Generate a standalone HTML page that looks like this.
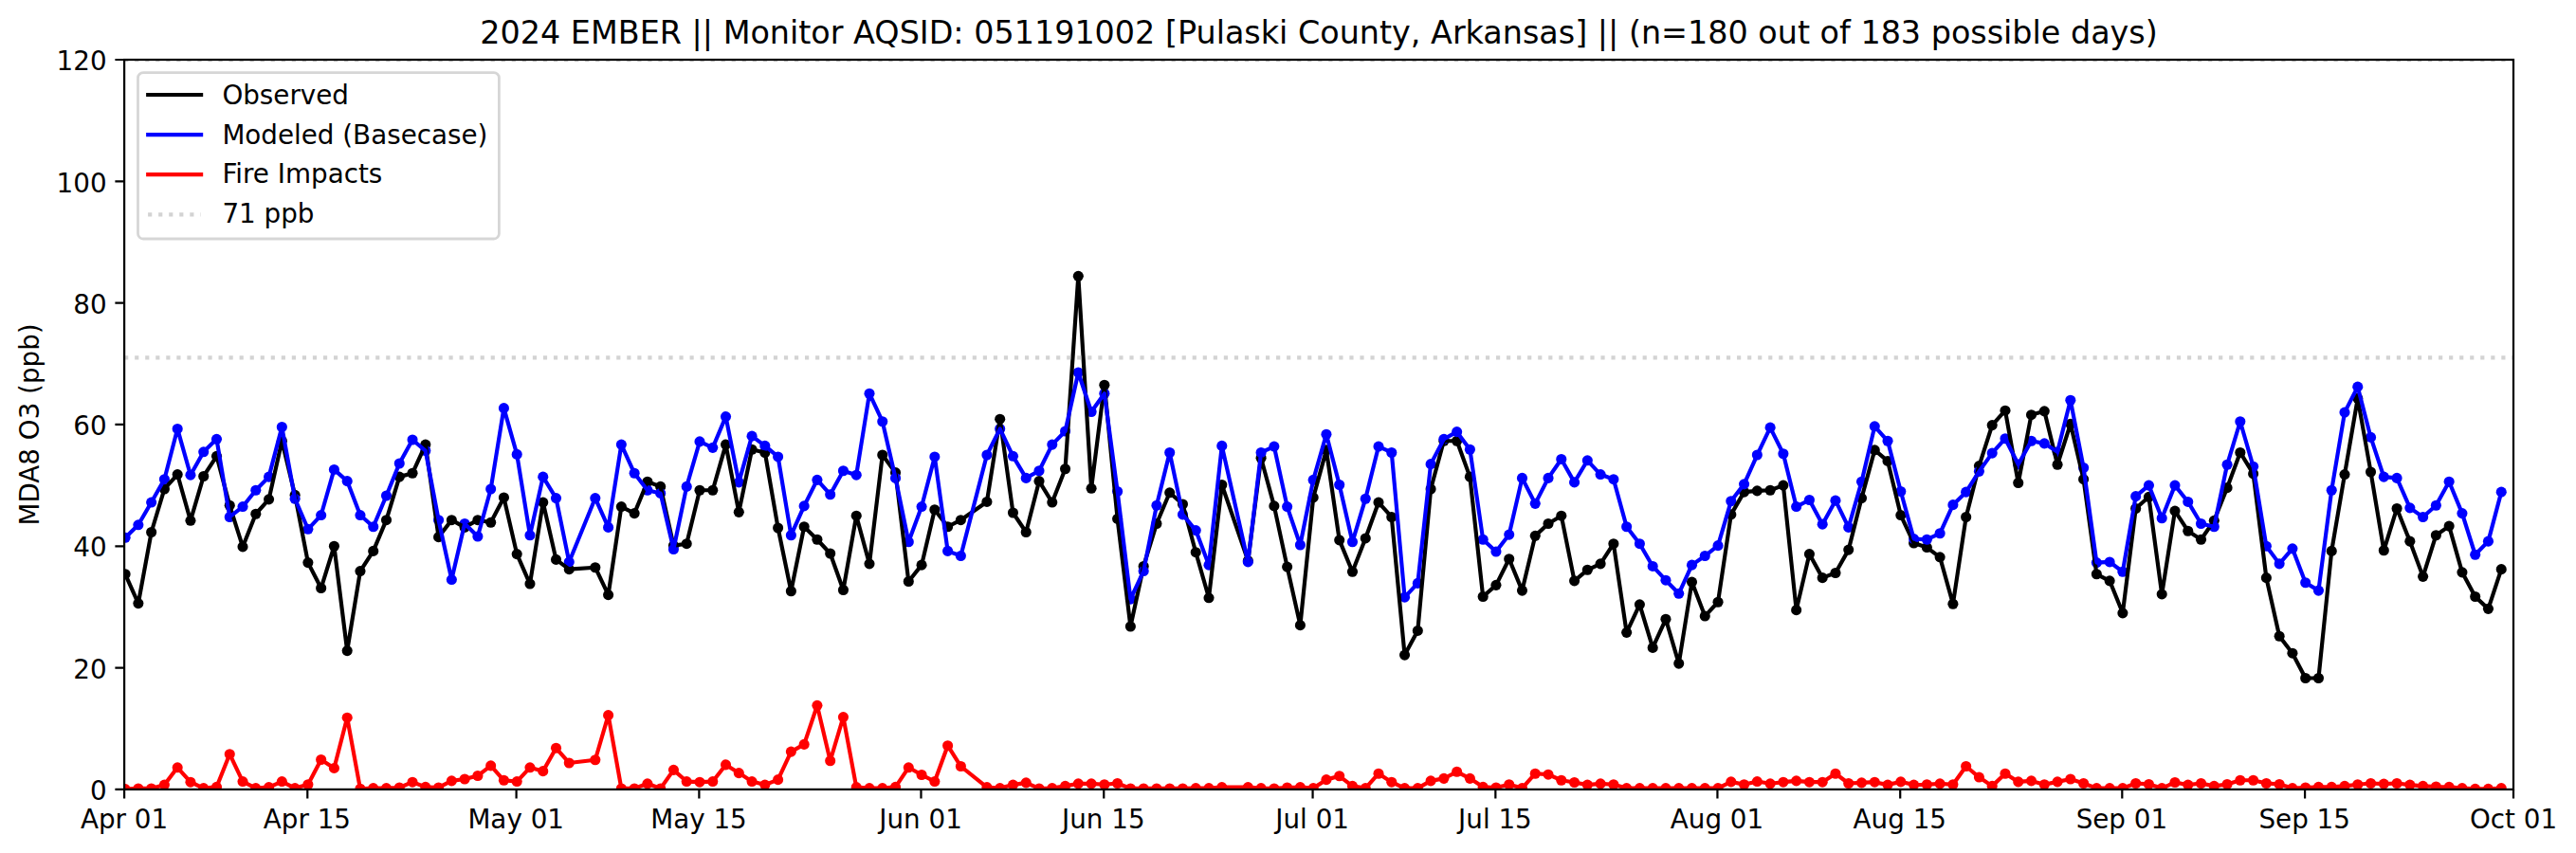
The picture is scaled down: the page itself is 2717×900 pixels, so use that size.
<!DOCTYPE html>
<html lang="en"><head><meta charset="utf-8"><title>2024 EMBER MDA8 O3 time series</title>
<style>html,body{margin:0;padding:0;background:#fff}svg{display:block}text{font-family:"DejaVu Sans", "Liberation Sans", sans-serif;fill:#000}</style></head><body>
<svg width="2717" height="900" viewBox="0 0 2717 900">
<rect x="0" y="0" width="2717" height="900" fill="#ffffff"/>
<defs><clipPath id="ax"><rect x="131.10" y="63.00" width="2519.90" height="769.90"/></clipPath></defs>
<g clip-path="url(#ax)">
<g fill="#000000">
<circle cx="132.10" cy="605.78" r="5.55"/><circle cx="145.87" cy="636.58" r="5.55"/><circle cx="159.64" cy="561.51" r="5.55"/><circle cx="173.41" cy="515.96" r="5.55"/><circle cx="187.18" cy="500.56" r="5.55"/><circle cx="200.95" cy="549.32" r="5.55"/><circle cx="214.72" cy="502.48" r="5.55"/><circle cx="228.49" cy="481.31" r="5.55"/><circle cx="242.26" cy="533.28" r="5.55"/><circle cx="256.03" cy="576.91" r="5.55"/><circle cx="269.80" cy="542.26" r="5.55"/><circle cx="283.57" cy="526.86" r="5.55"/><circle cx="297.34" cy="465.27" r="5.55"/><circle cx="311.11" cy="522.37" r="5.55"/><circle cx="324.88" cy="593.59" r="5.55"/><circle cx="338.65" cy="620.54" r="5.55"/><circle cx="352.42" cy="576.27" r="5.55"/><circle cx="366.19" cy="686.62" r="5.55"/><circle cx="379.96" cy="602.57" r="5.55"/><circle cx="393.73" cy="581.40" r="5.55"/><circle cx="407.50" cy="548.68" r="5.55"/><circle cx="421.27" cy="503.13" r="5.55"/><circle cx="435.04" cy="499.28" r="5.55"/><circle cx="448.81" cy="469.12" r="5.55"/><circle cx="462.58" cy="566.64" r="5.55"/><circle cx="476.35" cy="548.68" r="5.55"/><circle cx="490.12" cy="556.38" r="5.55"/><circle cx="503.89" cy="548.68" r="5.55"/><circle cx="517.66" cy="551.24" r="5.55"/><circle cx="531.43" cy="524.94" r="5.55"/><circle cx="545.20" cy="584.61" r="5.55"/><circle cx="558.97" cy="616.04" r="5.55"/><circle cx="572.74" cy="530.07" r="5.55"/><circle cx="586.51" cy="590.38" r="5.55"/><circle cx="600.28" cy="600.65" r="5.55"/><circle cx="627.82" cy="598.72" r="5.55"/><circle cx="641.59" cy="627.59" r="5.55"/><circle cx="655.36" cy="534.56" r="5.55"/><circle cx="669.13" cy="541.62" r="5.55"/><circle cx="682.90" cy="508.26" r="5.55"/><circle cx="696.67" cy="513.39" r="5.55"/><circle cx="710.44" cy="575.63" r="5.55"/><circle cx="724.21" cy="573.70" r="5.55"/><circle cx="737.98" cy="517.24" r="5.55"/><circle cx="751.75" cy="517.24" r="5.55"/><circle cx="765.52" cy="469.12" r="5.55"/><circle cx="779.29" cy="540.34" r="5.55"/><circle cx="793.06" cy="474.25" r="5.55"/><circle cx="806.83" cy="477.46" r="5.55"/><circle cx="820.60" cy="557.02" r="5.55"/><circle cx="834.37" cy="623.74" r="5.55"/><circle cx="848.14" cy="555.74" r="5.55"/><circle cx="861.91" cy="569.21" r="5.55"/><circle cx="875.68" cy="583.97" r="5.55"/><circle cx="889.45" cy="622.46" r="5.55"/><circle cx="903.22" cy="544.19" r="5.55"/><circle cx="916.99" cy="594.87" r="5.55"/><circle cx="930.76" cy="480.03" r="5.55"/><circle cx="944.53" cy="498.64" r="5.55"/><circle cx="958.30" cy="613.48" r="5.55"/><circle cx="972.07" cy="596.16" r="5.55"/><circle cx="985.84" cy="537.77" r="5.55"/><circle cx="999.61" cy="555.74" r="5.55"/><circle cx="1013.38" cy="548.68" r="5.55"/><circle cx="1040.92" cy="529.43" r="5.55"/><circle cx="1054.69" cy="442.18" r="5.55"/><circle cx="1068.46" cy="540.98" r="5.55"/><circle cx="1082.23" cy="561.51" r="5.55"/><circle cx="1096.00" cy="507.62" r="5.55"/><circle cx="1109.77" cy="530.07" r="5.55"/><circle cx="1123.54" cy="494.79" r="5.55"/><circle cx="1137.31" cy="291.34" r="5.55"/><circle cx="1151.08" cy="515.32" r="5.55"/><circle cx="1164.85" cy="406.25" r="5.55"/><circle cx="1178.62" cy="547.40" r="5.55"/><circle cx="1192.39" cy="660.96" r="5.55"/><circle cx="1206.16" cy="597.44" r="5.55"/><circle cx="1219.93" cy="552.53" r="5.55"/><circle cx="1233.70" cy="519.81" r="5.55"/><circle cx="1247.47" cy="532.00" r="5.55"/><circle cx="1261.24" cy="582.68" r="5.55"/><circle cx="1275.01" cy="630.80" r="5.55"/><circle cx="1288.78" cy="511.47" r="5.55"/><circle cx="1316.32" cy="591.66" r="5.55"/><circle cx="1330.09" cy="483.24" r="5.55"/><circle cx="1343.86" cy="533.92" r="5.55"/><circle cx="1357.63" cy="598.08" r="5.55"/><circle cx="1371.40" cy="659.67" r="5.55"/><circle cx="1385.17" cy="524.94" r="5.55"/><circle cx="1398.93" cy="474.90" r="5.55"/><circle cx="1412.70" cy="569.85" r="5.55"/><circle cx="1426.47" cy="603.21" r="5.55"/><circle cx="1440.24" cy="567.93" r="5.55"/><circle cx="1454.01" cy="530.07" r="5.55"/><circle cx="1467.78" cy="545.47" r="5.55"/><circle cx="1481.55" cy="691.11" r="5.55"/><circle cx="1495.32" cy="665.45" r="5.55"/><circle cx="1509.09" cy="515.96" r="5.55"/><circle cx="1522.86" cy="465.27" r="5.55"/><circle cx="1536.63" cy="465.27" r="5.55"/><circle cx="1550.40" cy="503.13" r="5.55"/><circle cx="1564.17" cy="629.52" r="5.55"/><circle cx="1577.94" cy="617.33" r="5.55"/><circle cx="1591.71" cy="589.74" r="5.55"/><circle cx="1605.48" cy="623.10" r="5.55"/><circle cx="1619.25" cy="565.36" r="5.55"/><circle cx="1633.02" cy="552.53" r="5.55"/><circle cx="1646.79" cy="544.19" r="5.55"/><circle cx="1660.56" cy="612.84" r="5.55"/><circle cx="1674.33" cy="601.29" r="5.55"/><circle cx="1688.10" cy="594.87" r="5.55"/><circle cx="1701.87" cy="573.70" r="5.55"/><circle cx="1715.64" cy="667.37" r="5.55"/><circle cx="1729.41" cy="637.86" r="5.55"/><circle cx="1743.18" cy="683.41" r="5.55"/><circle cx="1756.95" cy="653.26" r="5.55"/><circle cx="1770.72" cy="700.09" r="5.55"/><circle cx="1784.49" cy="614.12" r="5.55"/><circle cx="1798.26" cy="650.05" r="5.55"/><circle cx="1812.03" cy="635.29" r="5.55"/><circle cx="1825.80" cy="542.90" r="5.55"/><circle cx="1839.57" cy="519.17" r="5.55"/><circle cx="1853.34" cy="517.88" r="5.55"/><circle cx="1867.11" cy="517.24" r="5.55"/><circle cx="1880.88" cy="512.11" r="5.55"/><circle cx="1894.65" cy="643.63" r="5.55"/><circle cx="1908.42" cy="584.61" r="5.55"/><circle cx="1922.19" cy="609.63" r="5.55"/><circle cx="1935.96" cy="604.50" r="5.55"/><circle cx="1949.73" cy="580.12" r="5.55"/><circle cx="1963.50" cy="525.58" r="5.55"/><circle cx="1977.27" cy="474.90" r="5.55"/><circle cx="1991.04" cy="486.44" r="5.55"/><circle cx="2004.81" cy="543.55" r="5.55"/><circle cx="2018.58" cy="573.06" r="5.55"/><circle cx="2032.35" cy="577.55" r="5.55"/><circle cx="2046.12" cy="587.82" r="5.55"/><circle cx="2059.89" cy="637.22" r="5.55"/><circle cx="2073.66" cy="545.47" r="5.55"/><circle cx="2087.43" cy="491.58" r="5.55"/><circle cx="2101.20" cy="448.59" r="5.55"/><circle cx="2114.97" cy="433.19" r="5.55"/><circle cx="2128.74" cy="509.54" r="5.55"/><circle cx="2142.51" cy="437.68" r="5.55"/><circle cx="2156.28" cy="433.84" r="5.55"/><circle cx="2170.05" cy="490.29" r="5.55"/><circle cx="2183.82" cy="447.31" r="5.55"/><circle cx="2197.59" cy="505.69" r="5.55"/><circle cx="2211.36" cy="605.78" r="5.55"/><circle cx="2225.13" cy="612.84" r="5.55"/><circle cx="2238.90" cy="646.84" r="5.55"/><circle cx="2252.67" cy="536.49" r="5.55"/><circle cx="2266.44" cy="524.30" r="5.55"/><circle cx="2280.21" cy="626.95" r="5.55"/><circle cx="2293.98" cy="539.05" r="5.55"/><circle cx="2307.75" cy="560.23" r="5.55"/><circle cx="2321.52" cy="569.21" r="5.55"/><circle cx="2335.29" cy="549.32" r="5.55"/><circle cx="2349.06" cy="514.67" r="5.55"/><circle cx="2362.83" cy="477.46" r="5.55"/><circle cx="2376.60" cy="499.92" r="5.55"/><circle cx="2390.37" cy="609.63" r="5.55"/><circle cx="2404.14" cy="671.22" r="5.55"/><circle cx="2417.91" cy="689.19" r="5.55"/><circle cx="2431.68" cy="715.49" r="5.55"/><circle cx="2445.45" cy="715.49" r="5.55"/><circle cx="2459.22" cy="581.40" r="5.55"/><circle cx="2472.99" cy="500.56" r="5.55"/><circle cx="2486.76" cy="420.36" r="5.55"/><circle cx="2500.53" cy="497.99" r="5.55"/><circle cx="2514.30" cy="580.76" r="5.55"/><circle cx="2528.07" cy="536.49" r="5.55"/><circle cx="2541.84" cy="571.13" r="5.55"/><circle cx="2555.61" cy="608.35" r="5.55"/><circle cx="2569.38" cy="564.72" r="5.55"/><circle cx="2583.15" cy="555.09" r="5.55"/><circle cx="2596.92" cy="603.85" r="5.55"/><circle cx="2610.69" cy="629.52" r="5.55"/><circle cx="2624.46" cy="642.35" r="5.55"/><circle cx="2638.23" cy="600.65" r="5.55"/>
</g>
<g fill="#0000ff">
<circle cx="132.10" cy="567.28" r="5.55"/><circle cx="145.87" cy="553.81" r="5.55"/><circle cx="159.64" cy="530.07" r="5.55"/><circle cx="173.41" cy="505.69" r="5.55"/><circle cx="187.18" cy="452.44" r="5.55"/><circle cx="200.95" cy="501.20" r="5.55"/><circle cx="214.72" cy="476.82" r="5.55"/><circle cx="228.49" cy="463.35" r="5.55"/><circle cx="242.26" cy="545.47" r="5.55"/><circle cx="256.03" cy="534.56" r="5.55"/><circle cx="269.80" cy="517.24" r="5.55"/><circle cx="283.57" cy="503.13" r="5.55"/><circle cx="297.34" cy="450.52" r="5.55"/><circle cx="311.11" cy="526.22" r="5.55"/><circle cx="324.88" cy="558.30" r="5.55"/><circle cx="338.65" cy="543.55" r="5.55"/><circle cx="352.42" cy="495.43" r="5.55"/><circle cx="366.19" cy="507.62" r="5.55"/><circle cx="379.96" cy="543.55" r="5.55"/><circle cx="393.73" cy="555.74" r="5.55"/><circle cx="407.50" cy="523.02" r="5.55"/><circle cx="421.27" cy="489.01" r="5.55"/><circle cx="435.04" cy="463.99" r="5.55"/><circle cx="448.81" cy="475.54" r="5.55"/><circle cx="462.58" cy="548.68" r="5.55"/><circle cx="476.35" cy="611.55" r="5.55"/><circle cx="490.12" cy="552.53" r="5.55"/><circle cx="503.89" cy="566.00" r="5.55"/><circle cx="517.66" cy="515.96" r="5.55"/><circle cx="531.43" cy="430.63" r="5.55"/><circle cx="545.20" cy="479.39" r="5.55"/><circle cx="558.97" cy="564.72" r="5.55"/><circle cx="572.74" cy="503.13" r="5.55"/><circle cx="586.51" cy="525.58" r="5.55"/><circle cx="600.28" cy="592.95" r="5.55"/><circle cx="627.82" cy="525.58" r="5.55"/><circle cx="641.59" cy="556.38" r="5.55"/><circle cx="655.36" cy="469.12" r="5.55"/><circle cx="669.13" cy="499.28" r="5.55"/><circle cx="682.90" cy="517.24" r="5.55"/><circle cx="696.67" cy="520.45" r="5.55"/><circle cx="710.44" cy="579.47" r="5.55"/><circle cx="724.21" cy="513.39" r="5.55"/><circle cx="737.98" cy="465.91" r="5.55"/><circle cx="751.75" cy="472.33" r="5.55"/><circle cx="765.52" cy="439.61" r="5.55"/><circle cx="779.29" cy="508.90" r="5.55"/><circle cx="793.06" cy="460.14" r="5.55"/><circle cx="806.83" cy="470.41" r="5.55"/><circle cx="820.60" cy="481.95" r="5.55"/><circle cx="834.37" cy="564.72" r="5.55"/><circle cx="848.14" cy="533.92" r="5.55"/><circle cx="861.91" cy="506.33" r="5.55"/><circle cx="875.68" cy="521.73" r="5.55"/><circle cx="889.45" cy="496.71" r="5.55"/><circle cx="903.22" cy="501.20" r="5.55"/><circle cx="916.99" cy="415.23" r="5.55"/><circle cx="930.76" cy="444.74" r="5.55"/><circle cx="944.53" cy="504.41" r="5.55"/><circle cx="958.30" cy="571.78" r="5.55"/><circle cx="972.07" cy="534.56" r="5.55"/><circle cx="985.84" cy="481.95" r="5.55"/><circle cx="999.61" cy="581.40" r="5.55"/><circle cx="1013.38" cy="586.53" r="5.55"/><circle cx="1040.92" cy="480.03" r="5.55"/><circle cx="1054.69" cy="452.44" r="5.55"/><circle cx="1068.46" cy="481.31" r="5.55"/><circle cx="1082.23" cy="504.41" r="5.55"/><circle cx="1096.00" cy="496.71" r="5.55"/><circle cx="1109.77" cy="469.12" r="5.55"/><circle cx="1123.54" cy="455.01" r="5.55"/><circle cx="1137.31" cy="393.03" r="5.55"/><circle cx="1151.08" cy="434.48" r="5.55"/><circle cx="1164.85" cy="415.23" r="5.55"/><circle cx="1178.62" cy="518.52" r="5.55"/><circle cx="1192.39" cy="632.08" r="5.55"/><circle cx="1206.16" cy="602.57" r="5.55"/><circle cx="1219.93" cy="533.28" r="5.55"/><circle cx="1233.70" cy="477.46" r="5.55"/><circle cx="1247.47" cy="542.90" r="5.55"/><circle cx="1261.24" cy="559.59" r="5.55"/><circle cx="1275.01" cy="596.16" r="5.55"/><circle cx="1288.78" cy="470.41" r="5.55"/><circle cx="1316.32" cy="592.95" r="5.55"/><circle cx="1330.09" cy="477.46" r="5.55"/><circle cx="1343.86" cy="471.05" r="5.55"/><circle cx="1357.63" cy="534.56" r="5.55"/><circle cx="1371.40" cy="574.98" r="5.55"/><circle cx="1385.17" cy="506.33" r="5.55"/><circle cx="1398.93" cy="458.22" r="5.55"/><circle cx="1412.70" cy="511.47" r="5.55"/><circle cx="1426.47" cy="571.78" r="5.55"/><circle cx="1440.24" cy="526.22" r="5.55"/><circle cx="1454.01" cy="471.05" r="5.55"/><circle cx="1467.78" cy="477.46" r="5.55"/><circle cx="1481.55" cy="630.16" r="5.55"/><circle cx="1495.32" cy="615.40" r="5.55"/><circle cx="1509.09" cy="489.65" r="5.55"/><circle cx="1522.86" cy="463.35" r="5.55"/><circle cx="1536.63" cy="455.65" r="5.55"/><circle cx="1550.40" cy="474.25" r="5.55"/><circle cx="1564.17" cy="569.21" r="5.55"/><circle cx="1577.94" cy="582.04" r="5.55"/><circle cx="1591.71" cy="564.08" r="5.55"/><circle cx="1605.48" cy="504.41" r="5.55"/><circle cx="1619.25" cy="531.36" r="5.55"/><circle cx="1633.02" cy="504.41" r="5.55"/><circle cx="1646.79" cy="484.52" r="5.55"/><circle cx="1660.56" cy="508.90" r="5.55"/><circle cx="1674.33" cy="485.80" r="5.55"/><circle cx="1688.10" cy="500.56" r="5.55"/><circle cx="1701.87" cy="505.69" r="5.55"/><circle cx="1715.64" cy="555.74" r="5.55"/><circle cx="1729.41" cy="573.70" r="5.55"/><circle cx="1743.18" cy="597.44" r="5.55"/><circle cx="1756.95" cy="612.20" r="5.55"/><circle cx="1770.72" cy="626.31" r="5.55"/><circle cx="1784.49" cy="596.16" r="5.55"/><circle cx="1798.26" cy="586.53" r="5.55"/><circle cx="1812.03" cy="575.63" r="5.55"/><circle cx="1825.80" cy="528.79" r="5.55"/><circle cx="1839.57" cy="510.83" r="5.55"/><circle cx="1853.34" cy="480.03" r="5.55"/><circle cx="1867.11" cy="451.16" r="5.55"/><circle cx="1880.88" cy="478.75" r="5.55"/><circle cx="1894.65" cy="534.56" r="5.55"/><circle cx="1908.42" cy="527.51" r="5.55"/><circle cx="1922.19" cy="553.17" r="5.55"/><circle cx="1935.96" cy="528.15" r="5.55"/><circle cx="1949.73" cy="556.38" r="5.55"/><circle cx="1963.50" cy="508.26" r="5.55"/><circle cx="1977.27" cy="449.87" r="5.55"/><circle cx="1991.04" cy="465.27" r="5.55"/><circle cx="2004.81" cy="518.52" r="5.55"/><circle cx="2018.58" cy="568.57" r="5.55"/><circle cx="2032.35" cy="569.21" r="5.55"/><circle cx="2046.12" cy="562.79" r="5.55"/><circle cx="2059.89" cy="532.64" r="5.55"/><circle cx="2073.66" cy="519.17" r="5.55"/><circle cx="2087.43" cy="497.35" r="5.55"/><circle cx="2101.20" cy="478.10" r="5.55"/><circle cx="2114.97" cy="462.71" r="5.55"/><circle cx="2128.74" cy="489.97" r="5.55"/><circle cx="2142.51" cy="465.27" r="5.55"/><circle cx="2156.28" cy="467.84" r="5.55"/><circle cx="2170.05" cy="476.82" r="5.55"/><circle cx="2183.82" cy="422.29" r="5.55"/><circle cx="2197.59" cy="493.50" r="5.55"/><circle cx="2211.36" cy="593.59" r="5.55"/><circle cx="2225.13" cy="592.95" r="5.55"/><circle cx="2238.90" cy="603.21" r="5.55"/><circle cx="2252.67" cy="523.66" r="5.55"/><circle cx="2266.44" cy="512.11" r="5.55"/><circle cx="2280.21" cy="546.75" r="5.55"/><circle cx="2293.98" cy="512.11" r="5.55"/><circle cx="2307.75" cy="529.43" r="5.55"/><circle cx="2321.52" cy="552.53" r="5.55"/><circle cx="2335.29" cy="555.74" r="5.55"/><circle cx="2349.06" cy="490.29" r="5.55"/><circle cx="2362.83" cy="444.74" r="5.55"/><circle cx="2376.60" cy="492.22" r="5.55"/><circle cx="2390.37" cy="576.27" r="5.55"/><circle cx="2404.14" cy="594.87" r="5.55"/><circle cx="2417.91" cy="578.83" r="5.55"/><circle cx="2431.68" cy="614.76" r="5.55"/><circle cx="2445.45" cy="623.10" r="5.55"/><circle cx="2459.22" cy="517.24" r="5.55"/><circle cx="2472.99" cy="435.12" r="5.55"/><circle cx="2486.76" cy="408.17" r="5.55"/><circle cx="2500.53" cy="461.42" r="5.55"/><circle cx="2514.30" cy="503.13" r="5.55"/><circle cx="2528.07" cy="504.41" r="5.55"/><circle cx="2541.84" cy="535.85" r="5.55"/><circle cx="2555.61" cy="545.47" r="5.55"/><circle cx="2569.38" cy="533.28" r="5.55"/><circle cx="2583.15" cy="508.26" r="5.55"/><circle cx="2596.92" cy="541.62" r="5.55"/><circle cx="2610.69" cy="585.25" r="5.55"/><circle cx="2624.46" cy="571.13" r="5.55"/><circle cx="2638.23" cy="519.17" r="5.55"/>
</g>
<g fill="#ff0000">
<circle cx="132.10" cy="832.58" r="5.55"/><circle cx="145.87" cy="831.94" r="5.55"/><circle cx="159.64" cy="831.94" r="5.55"/><circle cx="173.41" cy="828.09" r="5.55"/><circle cx="187.18" cy="809.80" r="5.55"/><circle cx="200.95" cy="825.20" r="5.55"/><circle cx="214.72" cy="831.62" r="5.55"/><circle cx="228.49" cy="830.33" r="5.55"/><circle cx="242.26" cy="795.69" r="5.55"/><circle cx="256.03" cy="824.56" r="5.55"/><circle cx="269.80" cy="831.62" r="5.55"/><circle cx="283.57" cy="830.65" r="5.55"/><circle cx="297.34" cy="824.56" r="5.55"/><circle cx="311.11" cy="831.62" r="5.55"/><circle cx="324.88" cy="827.77" r="5.55"/><circle cx="338.65" cy="801.46" r="5.55"/><circle cx="352.42" cy="810.44" r="5.55"/><circle cx="366.19" cy="757.19" r="5.55"/><circle cx="379.96" cy="832.26" r="5.55"/><circle cx="393.73" cy="831.62" r="5.55"/><circle cx="407.50" cy="831.62" r="5.55"/><circle cx="421.27" cy="830.98" r="5.55"/><circle cx="435.04" cy="825.20" r="5.55"/><circle cx="448.81" cy="830.33" r="5.55"/><circle cx="462.58" cy="830.98" r="5.55"/><circle cx="476.35" cy="823.92" r="5.55"/><circle cx="490.12" cy="821.99" r="5.55"/><circle cx="503.89" cy="818.46" r="5.55"/><circle cx="517.66" cy="807.88" r="5.55"/><circle cx="531.43" cy="823.28" r="5.55"/><circle cx="545.20" cy="824.56" r="5.55"/><circle cx="558.97" cy="809.80" r="5.55"/><circle cx="572.74" cy="813.65" r="5.55"/><circle cx="586.51" cy="789.27" r="5.55"/><circle cx="600.28" cy="804.99" r="5.55"/><circle cx="627.82" cy="801.78" r="5.55"/><circle cx="641.59" cy="754.63" r="5.55"/><circle cx="655.36" cy="831.94" r="5.55"/><circle cx="669.13" cy="831.94" r="5.55"/><circle cx="682.90" cy="826.80" r="5.55"/><circle cx="696.67" cy="831.94" r="5.55"/><circle cx="710.44" cy="812.37" r="5.55"/><circle cx="724.21" cy="824.56" r="5.55"/><circle cx="737.98" cy="825.20" r="5.55"/><circle cx="751.75" cy="824.56" r="5.55"/><circle cx="765.52" cy="806.92" r="5.55"/><circle cx="779.29" cy="815.58" r="5.55"/><circle cx="793.06" cy="824.56" r="5.55"/><circle cx="806.83" cy="828.09" r="5.55"/><circle cx="820.60" cy="822.63" r="5.55"/><circle cx="834.37" cy="793.12" r="5.55"/><circle cx="848.14" cy="785.42" r="5.55"/><circle cx="861.91" cy="744.36" r="5.55"/><circle cx="875.68" cy="802.75" r="5.55"/><circle cx="889.45" cy="756.55" r="5.55"/><circle cx="903.22" cy="830.65" r="5.55"/><circle cx="916.99" cy="831.62" r="5.55"/><circle cx="930.76" cy="831.62" r="5.55"/><circle cx="944.53" cy="830.33" r="5.55"/><circle cx="958.30" cy="809.80" r="5.55"/><circle cx="972.07" cy="817.50" r="5.55"/><circle cx="985.84" cy="824.56" r="5.55"/><circle cx="999.61" cy="786.71" r="5.55"/><circle cx="1013.38" cy="808.52" r="5.55"/><circle cx="1040.92" cy="830.65" r="5.55"/><circle cx="1054.69" cy="831.62" r="5.55"/><circle cx="1068.46" cy="828.09" r="5.55"/><circle cx="1082.23" cy="825.84" r="5.55"/><circle cx="1096.00" cy="831.94" r="5.55"/><circle cx="1109.77" cy="831.62" r="5.55"/><circle cx="1123.54" cy="829.37" r="5.55"/><circle cx="1137.31" cy="826.80" r="5.55"/><circle cx="1151.08" cy="826.80" r="5.55"/><circle cx="1164.85" cy="827.77" r="5.55"/><circle cx="1178.62" cy="826.48" r="5.55"/><circle cx="1192.39" cy="831.94" r="5.55"/><circle cx="1206.16" cy="831.94" r="5.55"/><circle cx="1219.93" cy="831.94" r="5.55"/><circle cx="1233.70" cy="831.94" r="5.55"/><circle cx="1247.47" cy="831.94" r="5.55"/><circle cx="1261.24" cy="831.62" r="5.55"/><circle cx="1275.01" cy="831.62" r="5.55"/><circle cx="1288.78" cy="830.65" r="5.55"/><circle cx="1316.32" cy="830.65" r="5.55"/><circle cx="1330.09" cy="831.62" r="5.55"/><circle cx="1343.86" cy="831.94" r="5.55"/><circle cx="1357.63" cy="830.98" r="5.55"/><circle cx="1371.40" cy="830.65" r="5.55"/><circle cx="1385.17" cy="831.62" r="5.55"/><circle cx="1398.93" cy="822.63" r="5.55"/><circle cx="1412.70" cy="818.79" r="5.55"/><circle cx="1426.47" cy="829.37" r="5.55"/><circle cx="1440.24" cy="831.62" r="5.55"/><circle cx="1454.01" cy="816.22" r="5.55"/><circle cx="1467.78" cy="825.20" r="5.55"/><circle cx="1481.55" cy="831.62" r="5.55"/><circle cx="1495.32" cy="831.62" r="5.55"/><circle cx="1509.09" cy="823.92" r="5.55"/><circle cx="1522.86" cy="821.35" r="5.55"/><circle cx="1536.63" cy="814.29" r="5.55"/><circle cx="1550.40" cy="821.35" r="5.55"/><circle cx="1564.17" cy="830.33" r="5.55"/><circle cx="1577.94" cy="830.98" r="5.55"/><circle cx="1591.71" cy="827.77" r="5.55"/><circle cx="1605.48" cy="831.62" r="5.55"/><circle cx="1619.25" cy="816.22" r="5.55"/><circle cx="1633.02" cy="817.18" r="5.55"/><circle cx="1646.79" cy="823.28" r="5.55"/><circle cx="1660.56" cy="825.52" r="5.55"/><circle cx="1674.33" cy="828.09" r="5.55"/><circle cx="1688.10" cy="826.80" r="5.55"/><circle cx="1701.87" cy="827.77" r="5.55"/><circle cx="1715.64" cy="831.62" r="5.55"/><circle cx="1729.41" cy="831.62" r="5.55"/><circle cx="1743.18" cy="831.62" r="5.55"/><circle cx="1756.95" cy="831.62" r="5.55"/><circle cx="1770.72" cy="831.62" r="5.55"/><circle cx="1784.49" cy="831.62" r="5.55"/><circle cx="1798.26" cy="831.62" r="5.55"/><circle cx="1812.03" cy="831.62" r="5.55"/><circle cx="1825.80" cy="824.88" r="5.55"/><circle cx="1839.57" cy="827.77" r="5.55"/><circle cx="1853.34" cy="824.56" r="5.55"/><circle cx="1867.11" cy="826.80" r="5.55"/><circle cx="1880.88" cy="825.20" r="5.55"/><circle cx="1894.65" cy="823.92" r="5.55"/><circle cx="1908.42" cy="825.20" r="5.55"/><circle cx="1922.19" cy="825.20" r="5.55"/><circle cx="1935.96" cy="816.22" r="5.55"/><circle cx="1949.73" cy="826.48" r="5.55"/><circle cx="1963.50" cy="825.84" r="5.55"/><circle cx="1977.27" cy="825.20" r="5.55"/><circle cx="1991.04" cy="828.09" r="5.55"/><circle cx="2004.81" cy="824.88" r="5.55"/><circle cx="2018.58" cy="828.09" r="5.55"/><circle cx="2032.35" cy="827.77" r="5.55"/><circle cx="2046.12" cy="826.80" r="5.55"/><circle cx="2059.89" cy="827.77" r="5.55"/><circle cx="2073.66" cy="808.52" r="5.55"/><circle cx="2087.43" cy="820.07" r="5.55"/><circle cx="2101.20" cy="829.37" r="5.55"/><circle cx="2114.97" cy="816.22" r="5.55"/><circle cx="2128.74" cy="824.88" r="5.55"/><circle cx="2142.51" cy="823.92" r="5.55"/><circle cx="2156.28" cy="827.77" r="5.55"/><circle cx="2170.05" cy="824.88" r="5.55"/><circle cx="2183.82" cy="821.99" r="5.55"/><circle cx="2197.59" cy="826.48" r="5.55"/><circle cx="2211.36" cy="831.62" r="5.55"/><circle cx="2225.13" cy="831.62" r="5.55"/><circle cx="2238.90" cy="831.62" r="5.55"/><circle cx="2252.67" cy="826.48" r="5.55"/><circle cx="2266.44" cy="827.45" r="5.55"/><circle cx="2280.21" cy="831.62" r="5.55"/><circle cx="2293.98" cy="825.52" r="5.55"/><circle cx="2307.75" cy="828.09" r="5.55"/><circle cx="2321.52" cy="826.48" r="5.55"/><circle cx="2335.29" cy="829.37" r="5.55"/><circle cx="2349.06" cy="827.45" r="5.55"/><circle cx="2362.83" cy="823.28" r="5.55"/><circle cx="2376.60" cy="823.28" r="5.55"/><circle cx="2390.37" cy="826.48" r="5.55"/><circle cx="2404.14" cy="827.45" r="5.55"/><circle cx="2417.91" cy="831.62" r="5.55"/><circle cx="2431.68" cy="830.98" r="5.55"/><circle cx="2445.45" cy="830.33" r="5.55"/><circle cx="2459.22" cy="830.33" r="5.55"/><circle cx="2472.99" cy="829.37" r="5.55"/><circle cx="2486.76" cy="827.77" r="5.55"/><circle cx="2500.53" cy="826.48" r="5.55"/><circle cx="2514.30" cy="827.13" r="5.55"/><circle cx="2528.07" cy="826.48" r="5.55"/><circle cx="2541.84" cy="828.09" r="5.55"/><circle cx="2555.61" cy="829.37" r="5.55"/><circle cx="2569.38" cy="830.01" r="5.55"/><circle cx="2583.15" cy="830.33" r="5.55"/><circle cx="2596.92" cy="831.62" r="5.55"/><circle cx="2610.69" cy="832.39" r="5.55"/><circle cx="2624.46" cy="832.39" r="5.55"/><circle cx="2638.23" cy="831.62" r="5.55"/>
</g>
<polyline points="132.10,605.78 145.87,636.58 159.64,561.51 173.41,515.96 187.18,500.56 200.95,549.32 214.72,502.48 228.49,481.31 242.26,533.28 256.03,576.91 269.80,542.26 283.57,526.86 297.34,465.27 311.11,522.37 324.88,593.59 338.65,620.54 352.42,576.27 366.19,686.62 379.96,602.57 393.73,581.40 407.50,548.68 421.27,503.13 435.04,499.28 448.81,469.12 462.58,566.64 476.35,548.68 490.12,556.38 503.89,548.68 517.66,551.24 531.43,524.94 545.20,584.61 558.97,616.04 572.74,530.07 586.51,590.38 600.28,600.65 627.82,598.72 641.59,627.59 655.36,534.56 669.13,541.62 682.90,508.26 696.67,513.39 710.44,575.63 724.21,573.70 737.98,517.24 751.75,517.24 765.52,469.12 779.29,540.34 793.06,474.25 806.83,477.46 820.60,557.02 834.37,623.74 848.14,555.74 861.91,569.21 875.68,583.97 889.45,622.46 903.22,544.19 916.99,594.87 930.76,480.03 944.53,498.64 958.30,613.48 972.07,596.16 985.84,537.77 999.61,555.74 1013.38,548.68 1040.92,529.43 1054.69,442.18 1068.46,540.98 1082.23,561.51 1096.00,507.62 1109.77,530.07 1123.54,494.79 1137.31,291.34 1151.08,515.32 1164.85,406.25 1178.62,547.40 1192.39,660.96 1206.16,597.44 1219.93,552.53 1233.70,519.81 1247.47,532.00 1261.24,582.68 1275.01,630.80 1288.78,511.47 1316.32,591.66 1330.09,483.24 1343.86,533.92 1357.63,598.08 1371.40,659.67 1385.17,524.94 1398.93,474.90 1412.70,569.85 1426.47,603.21 1440.24,567.93 1454.01,530.07 1467.78,545.47 1481.55,691.11 1495.32,665.45 1509.09,515.96 1522.86,465.27 1536.63,465.27 1550.40,503.13 1564.17,629.52 1577.94,617.33 1591.71,589.74 1605.48,623.10 1619.25,565.36 1633.02,552.53 1646.79,544.19 1660.56,612.84 1674.33,601.29 1688.10,594.87 1701.87,573.70 1715.64,667.37 1729.41,637.86 1743.18,683.41 1756.95,653.26 1770.72,700.09 1784.49,614.12 1798.26,650.05 1812.03,635.29 1825.80,542.90 1839.57,519.17 1853.34,517.88 1867.11,517.24 1880.88,512.11 1894.65,643.63 1908.42,584.61 1922.19,609.63 1935.96,604.50 1949.73,580.12 1963.50,525.58 1977.27,474.90 1991.04,486.44 2004.81,543.55 2018.58,573.06 2032.35,577.55 2046.12,587.82 2059.89,637.22 2073.66,545.47 2087.43,491.58 2101.20,448.59 2114.97,433.19 2128.74,509.54 2142.51,437.68 2156.28,433.84 2170.05,490.29 2183.82,447.31 2197.59,505.69 2211.36,605.78 2225.13,612.84 2238.90,646.84 2252.67,536.49 2266.44,524.30 2280.21,626.95 2293.98,539.05 2307.75,560.23 2321.52,569.21 2335.29,549.32 2349.06,514.67 2362.83,477.46 2376.60,499.92 2390.37,609.63 2404.14,671.22 2417.91,689.19 2431.68,715.49 2445.45,715.49 2459.22,581.40 2472.99,500.56 2486.76,420.36 2500.53,497.99 2514.30,580.76 2528.07,536.49 2541.84,571.13 2555.61,608.35 2569.38,564.72 2583.15,555.09 2596.92,603.85 2610.69,629.52 2624.46,642.35 2638.23,600.65" fill="none" stroke="#000000" stroke-width="4.17" stroke-linejoin="round" stroke-linecap="square"/>
<polyline points="132.10,567.28 145.87,553.81 159.64,530.07 173.41,505.69 187.18,452.44 200.95,501.20 214.72,476.82 228.49,463.35 242.26,545.47 256.03,534.56 269.80,517.24 283.57,503.13 297.34,450.52 311.11,526.22 324.88,558.30 338.65,543.55 352.42,495.43 366.19,507.62 379.96,543.55 393.73,555.74 407.50,523.02 421.27,489.01 435.04,463.99 448.81,475.54 462.58,548.68 476.35,611.55 490.12,552.53 503.89,566.00 517.66,515.96 531.43,430.63 545.20,479.39 558.97,564.72 572.74,503.13 586.51,525.58 600.28,592.95 627.82,525.58 641.59,556.38 655.36,469.12 669.13,499.28 682.90,517.24 696.67,520.45 710.44,579.47 724.21,513.39 737.98,465.91 751.75,472.33 765.52,439.61 779.29,508.90 793.06,460.14 806.83,470.41 820.60,481.95 834.37,564.72 848.14,533.92 861.91,506.33 875.68,521.73 889.45,496.71 903.22,501.20 916.99,415.23 930.76,444.74 944.53,504.41 958.30,571.78 972.07,534.56 985.84,481.95 999.61,581.40 1013.38,586.53 1040.92,480.03 1054.69,452.44 1068.46,481.31 1082.23,504.41 1096.00,496.71 1109.77,469.12 1123.54,455.01 1137.31,393.03 1151.08,434.48 1164.85,415.23 1178.62,518.52 1192.39,632.08 1206.16,602.57 1219.93,533.28 1233.70,477.46 1247.47,542.90 1261.24,559.59 1275.01,596.16 1288.78,470.41 1316.32,592.95 1330.09,477.46 1343.86,471.05 1357.63,534.56 1371.40,574.98 1385.17,506.33 1398.93,458.22 1412.70,511.47 1426.47,571.78 1440.24,526.22 1454.01,471.05 1467.78,477.46 1481.55,630.16 1495.32,615.40 1509.09,489.65 1522.86,463.35 1536.63,455.65 1550.40,474.25 1564.17,569.21 1577.94,582.04 1591.71,564.08 1605.48,504.41 1619.25,531.36 1633.02,504.41 1646.79,484.52 1660.56,508.90 1674.33,485.80 1688.10,500.56 1701.87,505.69 1715.64,555.74 1729.41,573.70 1743.18,597.44 1756.95,612.20 1770.72,626.31 1784.49,596.16 1798.26,586.53 1812.03,575.63 1825.80,528.79 1839.57,510.83 1853.34,480.03 1867.11,451.16 1880.88,478.75 1894.65,534.56 1908.42,527.51 1922.19,553.17 1935.96,528.15 1949.73,556.38 1963.50,508.26 1977.27,449.87 1991.04,465.27 2004.81,518.52 2018.58,568.57 2032.35,569.21 2046.12,562.79 2059.89,532.64 2073.66,519.17 2087.43,497.35 2101.20,478.10 2114.97,462.71 2128.74,489.97 2142.51,465.27 2156.28,467.84 2170.05,476.82 2183.82,422.29 2197.59,493.50 2211.36,593.59 2225.13,592.95 2238.90,603.21 2252.67,523.66 2266.44,512.11 2280.21,546.75 2293.98,512.11 2307.75,529.43 2321.52,552.53 2335.29,555.74 2349.06,490.29 2362.83,444.74 2376.60,492.22 2390.37,576.27 2404.14,594.87 2417.91,578.83 2431.68,614.76 2445.45,623.10 2459.22,517.24 2472.99,435.12 2486.76,408.17 2500.53,461.42 2514.30,503.13 2528.07,504.41 2541.84,535.85 2555.61,545.47 2569.38,533.28 2583.15,508.26 2596.92,541.62 2610.69,585.25 2624.46,571.13 2638.23,519.17" fill="none" stroke="#0000ff" stroke-width="4.17" stroke-linejoin="round" stroke-linecap="square"/>
<polyline points="132.10,832.58 145.87,831.94 159.64,831.94 173.41,828.09 187.18,809.80 200.95,825.20 214.72,831.62 228.49,830.33 242.26,795.69 256.03,824.56 269.80,831.62 283.57,830.65 297.34,824.56 311.11,831.62 324.88,827.77 338.65,801.46 352.42,810.44 366.19,757.19 379.96,832.26 393.73,831.62 407.50,831.62 421.27,830.98 435.04,825.20 448.81,830.33 462.58,830.98 476.35,823.92 490.12,821.99 503.89,818.46 517.66,807.88 531.43,823.28 545.20,824.56 558.97,809.80 572.74,813.65 586.51,789.27 600.28,804.99 627.82,801.78 641.59,754.63 655.36,831.94 669.13,831.94 682.90,826.80 696.67,831.94 710.44,812.37 724.21,824.56 737.98,825.20 751.75,824.56 765.52,806.92 779.29,815.58 793.06,824.56 806.83,828.09 820.60,822.63 834.37,793.12 848.14,785.42 861.91,744.36 875.68,802.75 889.45,756.55 903.22,830.65 916.99,831.62 930.76,831.62 944.53,830.33 958.30,809.80 972.07,817.50 985.84,824.56 999.61,786.71 1013.38,808.52 1040.92,830.65 1054.69,831.62 1068.46,828.09 1082.23,825.84 1096.00,831.94 1109.77,831.62 1123.54,829.37 1137.31,826.80 1151.08,826.80 1164.85,827.77 1178.62,826.48 1192.39,831.94 1206.16,831.94 1219.93,831.94 1233.70,831.94 1247.47,831.94 1261.24,831.62 1275.01,831.62 1288.78,830.65 1316.32,830.65 1330.09,831.62 1343.86,831.94 1357.63,830.98 1371.40,830.65 1385.17,831.62 1398.93,822.63 1412.70,818.79 1426.47,829.37 1440.24,831.62 1454.01,816.22 1467.78,825.20 1481.55,831.62 1495.32,831.62 1509.09,823.92 1522.86,821.35 1536.63,814.29 1550.40,821.35 1564.17,830.33 1577.94,830.98 1591.71,827.77 1605.48,831.62 1619.25,816.22 1633.02,817.18 1646.79,823.28 1660.56,825.52 1674.33,828.09 1688.10,826.80 1701.87,827.77 1715.64,831.62 1729.41,831.62 1743.18,831.62 1756.95,831.62 1770.72,831.62 1784.49,831.62 1798.26,831.62 1812.03,831.62 1825.80,824.88 1839.57,827.77 1853.34,824.56 1867.11,826.80 1880.88,825.20 1894.65,823.92 1908.42,825.20 1922.19,825.20 1935.96,816.22 1949.73,826.48 1963.50,825.84 1977.27,825.20 1991.04,828.09 2004.81,824.88 2018.58,828.09 2032.35,827.77 2046.12,826.80 2059.89,827.77 2073.66,808.52 2087.43,820.07 2101.20,829.37 2114.97,816.22 2128.74,824.88 2142.51,823.92 2156.28,827.77 2170.05,824.88 2183.82,821.99 2197.59,826.48 2211.36,831.62 2225.13,831.62 2238.90,831.62 2252.67,826.48 2266.44,827.45 2280.21,831.62 2293.98,825.52 2307.75,828.09 2321.52,826.48 2335.29,829.37 2349.06,827.45 2362.83,823.28 2376.60,823.28 2390.37,826.48 2404.14,827.45 2417.91,831.62 2431.68,830.98 2445.45,830.33 2459.22,830.33 2472.99,829.37 2486.76,827.77 2500.53,826.48 2514.30,827.13 2528.07,826.48 2541.84,828.09 2555.61,829.37 2569.38,830.01 2583.15,830.33 2596.92,831.62 2610.69,832.39 2624.46,832.39 2638.23,831.62" fill="none" stroke="#ff0000" stroke-width="4.17" stroke-linejoin="round" stroke-linecap="square"/>
<line x1="131.10" y1="377.38" x2="2651.00" y2="377.38" stroke="#d3d3d3" stroke-width="4.17" stroke-dasharray="4.17 6.875"/>
<line x1="131.10" y1="62.50" x2="2651.00" y2="62.50" stroke="#9a9a9a" stroke-width="4.17" stroke-dasharray="4.17 6.875"/>
</g>
<path d="M131.10 832.90v9.72M324.28 832.90v9.72M544.60 832.90v9.72M737.38 832.90v9.72M971.47 832.90v9.72M1164.25 832.90v9.72M1384.57 832.90v9.72M1577.34 832.90v9.72M1811.43 832.90v9.72M2004.21 832.90v9.72M2238.30 832.90v9.72M2431.08 832.90v9.72M2651.00 832.90v9.72M131.10 832.90h-9.72M131.10 704.58h-9.72M131.10 576.27h-9.72M131.10 447.95h-9.72M131.10 319.63h-9.72M131.10 191.32h-9.72M131.10 63.00h-9.72" stroke="#000" stroke-width="2.22" fill="none"/>
<rect x="131.10" y="63.00" width="2519.90" height="769.90" fill="none" stroke="#000" stroke-width="2.22" stroke-linejoin="miter"/>
<text x="131.10" y="873.60" font-size="27.78" text-anchor="middle">Apr 01</text>
<text x="323.88" y="873.60" font-size="27.78" text-anchor="middle">Apr 15</text>
<text x="544.20" y="873.60" font-size="27.78" text-anchor="middle">May 01</text>
<text x="736.98" y="873.60" font-size="27.78" text-anchor="middle">May 15</text>
<text x="971.07" y="873.60" font-size="27.78" text-anchor="middle">Jun 01</text>
<text x="1163.85" y="873.60" font-size="27.78" text-anchor="middle">Jun 15</text>
<text x="1384.17" y="873.60" font-size="27.78" text-anchor="middle">Jul 01</text>
<text x="1576.94" y="873.60" font-size="27.78" text-anchor="middle">Jul 15</text>
<text x="1811.03" y="873.60" font-size="27.78" text-anchor="middle">Aug 01</text>
<text x="2003.81" y="873.60" font-size="27.78" text-anchor="middle">Aug 15</text>
<text x="2237.90" y="873.60" font-size="27.78" text-anchor="middle">Sep 01</text>
<text x="2430.68" y="873.60" font-size="27.78" text-anchor="middle">Sep 15</text>
<text x="2651.00" y="873.60" font-size="27.78" text-anchor="middle">Oct 01</text>
<text x="112.60" y="844.10" font-size="27.78" text-anchor="end">0</text>
<text x="112.60" y="715.78" font-size="27.78" text-anchor="end">20</text>
<text x="112.60" y="587.47" font-size="27.78" text-anchor="end">40</text>
<text x="112.60" y="459.15" font-size="27.78" text-anchor="end">60</text>
<text x="112.60" y="330.83" font-size="27.78" text-anchor="end">80</text>
<text x="112.60" y="202.52" font-size="27.78" text-anchor="end">100</text>
<text x="112.60" y="74.20" font-size="27.78" text-anchor="end">120</text>
<text transform="translate(40.50 447.95) rotate(-90)" font-size="27.78" text-anchor="middle">MDA8 O3 (ppb)</text>
<text x="1391.05" y="46.40" font-size="33.38" text-anchor="middle">2024 EMBER || Monitor AQSID: 051191002 [Pulaski County, Arkansas] || (n=180 out of 183 possible days)</text>
<rect x="145.50" y="76.70" width="380.90" height="175.30" rx="5.6" ry="5.6" fill="#ffffff" fill-opacity="0.8" stroke="#cccccc" stroke-opacity="0.8" stroke-width="2.78"/>
<line x1="156.2" y1="100.00" x2="212.1" y2="100.00" stroke="#000000" stroke-width="4.17" stroke-linecap="square"/>
<text x="234.4" y="110.30" font-size="27.78">Observed</text>
<line x1="156.2" y1="142.10" x2="212.1" y2="142.10" stroke="#0000ff" stroke-width="4.17" stroke-linecap="square"/>
<text x="234.4" y="151.90" font-size="27.78">Modeled (Basecase)</text>
<line x1="156.2" y1="184.20" x2="212.1" y2="184.20" stroke="#ff0000" stroke-width="4.17" stroke-linecap="square"/>
<text x="234.4" y="193.40" font-size="27.78">Fire Impacts</text>
<line x1="156.1" y1="226.30" x2="211.8" y2="226.30" stroke="#d3d3d3" stroke-width="4.17" stroke-dasharray="4.17 6.875"/>
<text x="234.4" y="235.00" font-size="27.78">71 ppb</text>
</svg></body></html>
